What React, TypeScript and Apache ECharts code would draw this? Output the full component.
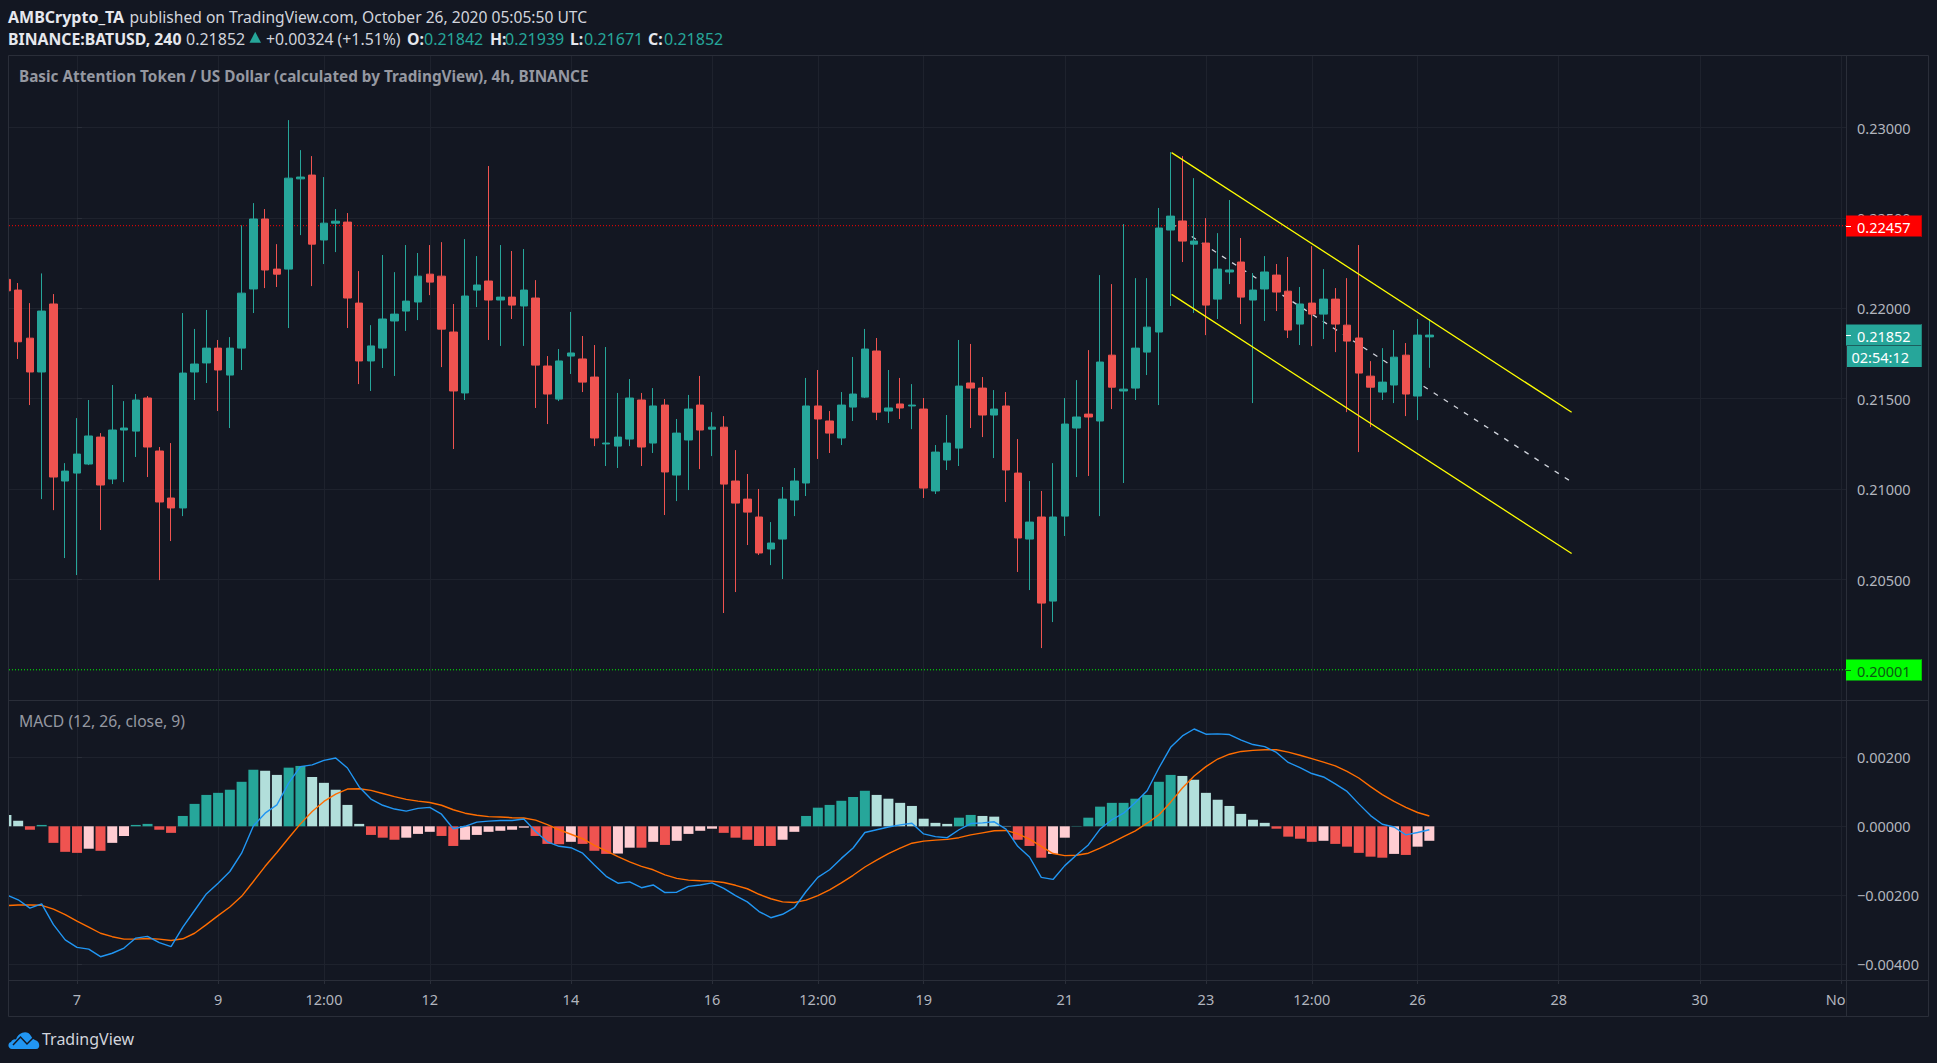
import React, { useEffect, useRef } from "react";
import * as echarts from "echarts";

// Candle index 0 is Oct 7 00:00; one candle is four hours. Prices in 1e-5 USD.
const FIRST_INDEX = -6;
const opens = [
  22160, 22101, 21835, 21648, 22024, 21045,
  21089, 21139, 21288, 21056, 21327, 21321, 21504, 21211, 20951, 20896, 21648, 21698, 21780, 21631,
  21780, 22107, 22494, 22217, 22217, 22716, 22737, 22378, 22471, 22477, 22029, 21709, 21780, 21930, 21985, 22035,
  22189, 22178, 21869, 21532, 22101, 22151, 22046, 22062, 22013, 22057,
  21681, 21498, 21736, 21720, 21620, 21250, 21238, 21277, 21493,
  21255, 21465, 21078, 21272, 21465, 21332, 21343, 21045, 20945, 20846, 20669, 20724, 20940, 21034, 21460, 21377,
  21283, 21454, 21509, 21764, 21432, 21471, 21460, 21443, 20990, 21161, 21227, 21587, 21559, 21410, 21460, 21089,
  20724, 20846, 20381, 20851, 21338, 21415, 21377, 21741, 21543, 21559, 21758, 21869, 22433, 22483, 22355, 22361,
  22051, 22201, 22256, 22046, 22107, 22184, 22095, 21913, 22029, 21968, 22051, 21907, 21836, 21625, 21537, 21576,
  21741, 21515, 21842,
];
const closes = [
  22097, 21815, 21648, 21985, 21067, 21100,
  21194, 21294, 21023, 21327, 21338, 21493, 21233, 20929, 20896, 21642, 21692, 21780, 21659, 21780,
  22084, 22494, 22212, 22189, 22720, 22726, 22355, 22471, 22482, 22057, 21709, 21792, 21941, 21968, 22040, 22178,
  22145, 21885, 21543, 22068, 22129, 22046, 22062, 22018, 22101, 21686,
  21526, 21709, 21753, 21592, 21283, 21255, 21288, 21504, 21233,
  21460, 21095, 21310, 21443, 21327, 21343, 21028, 20923, 20873, 20647, 20702, 20945, 21045, 21460, 21388, 21310,
  21465, 21526, 21775, 21426, 21449, 21449, 21465, 21006, 21205, 21255, 21570, 21559, 21410, 21443, 21106, 20730,
  20818, 20370, 20846, 21360, 21399, 21399, 21703, 21564, 21553, 21780, 21896, 22444, 22510, 22372, 22372, 22018,
  22217, 22212, 22062, 22101, 22201, 22090, 21880, 22024, 21968, 22051, 21913, 21819, 21642, 21564, 21592, 21730,
  21526, 21852, 21852,
];
const lows = [
  22090, 21720, 21465, 20945, 20884, 20619,
  20525, 21133, 20774, 21028, 21039, 21178, 21067, 20497, 20713, 20851, 21493, 21587, 21432, 21338,
  21659, 21974, 22112, 22118, 21891, 22405, 22123, 22245, 22311, 21891, 21581, 21543, 21670, 21626, 21875, 21935,
  22073, 21675, 21222, 21493, 22007, 21825, 21792, 21941, 21792, 21449,
  21360, 21487, 21637, 21537, 21238, 21128, 21117, 21238, 21128,
  21200, 20857, 20934, 20995, 21111, 21183, 20315, 20431, 20691, 20636, 20580, 20503, 20851, 20962, 21167, 21200,
  21244, 21377, 21504, 21382, 21366, 21388, 21332, 20951, 20973, 21106, 21128, 21338, 21288, 21172, 20929, 20542,
  20442, 20121, 20265, 20741, 21067, 21073, 20851, 21443, 21034, 21493, 21631, 21465, 22013, 22256, 21974, 21852,
  21941, 22134, 21913, 21476, 21930, 21985, 21836, 21797, 21791, 21830, 21758, 21426, 21205, 21343, 21493, 21476,
  21404, 21382, 21671,
];
const highs = [
  22180, 22140, 22029, 22193, 22079, 21144,
  21393, 21493, 21310, 21576, 21487, 21526, 21515, 21233, 21255, 21974, 21886, 21991, 21825, 21841,
  22459, 22582, 22549, 22355, 23041, 22875, 22842, 22726, 22549, 22527, 22206, 21907, 22295, 22200, 22350, 22306,
  22350, 22366, 22024, 22383, 22289, 22787, 22350, 22317, 22328, 22156,
  21736, 21775, 21980, 21847, 21797, 21786, 21532, 21609, 21532,
  21559, 21498, 21388, 21521, 21626, 21426, 21404, 21216, 21084, 21001, 20818, 21012, 21117, 21615, 21659, 21432,
  21537, 21731, 21886, 21836, 21659, 21615, 21581, 21504, 21244, 21410, 21825, 21803, 21620, 21548, 21537, 21277,
  21045, 20990, 21144, 21504, 21603, 21769, 22184, 22134, 22466, 22167, 22167, 22555, 22864, 22842, 22720, 22499,
  22416, 22599, 22389, 22195, 22289, 22245, 22284, 22118, 22344, 22217, 22112, 22167, 22350, 21708, 21780, 21880,
  21808, 21941, 21939,
];
// MACD values in 1e-5.
const histogram = [
  33, 16, -10, 4, -48, -74,
  -77, -65, -71, -48, -28, 4, 7, -10, -19, 30, 65, 91, 97, 106,
  129, 164, 161, 149, 170, 175, 143, 126, 106, 62, 7, -25, -33, -39, -33, -22,
  -16, -28, -57, -39, -25, -16, -13, -10, -4, -28,
  -51, -52, -45, -51, -71, -80, -79, -62, -62,
  -45, -54, -42, -22, -13, -7, -19, -33, -39, -57, -57, -39, -16, 30, 54, 62,
  74, 85, 103, 91, 80, 68, 59, 22, 10, 7, 25, 33, 30, 28, 1, -39,
  -57, -91, -80, -33, 1, 25, 57, 68, 68, 80, 91, 129, 149, 146, 135, 97,
  77, 59, 36, 19, 10, -7, -30, -36, -45, -42, -51, -59, -77, -88, -91, -80,
  -83, -59, -42,
];
const macdLine = [
  -199, -213, -237, -225, -285, -329,
  -351, -356, -378, -368, -353, -324, -319, -337, -349, -292, -244, -196, -165, -131,
  -78, 1, 38, 62, 125, 173, 178, 191, 198, 169, 114, 79, 61, 50, 44, 52,
  55, 35, -7, 0, 12, 15, 17, 17, 21, -15,
  -45, -58, -62, -78, -112, -145, -165, -161, -178,
  -170, -192, -191, -174, -170, -164, -180, -201, -219, -247, -265, -255, -236, -189, -148, -126,
  -93, -63, -18, -10, -2, 4, 9, -22, -30, -33, -10, 8, 10, 13, -8, -58,
  -89, -148, -154, -114, -83, -54, -8, 19, 38, 69, 103, 169, 229, 262, 282, 267,
  268, 266, 250, 237, 231, 214, 185, 170, 153, 143, 123, 101, 65, 31, 6, -2,
  -25, -18, -10,
];
const signalLine = [
  -230, -228, -228, -229, -240, -256,
  -275, -292, -310, -320, -327, -327, -325, -327, -331, -326, -310, -285, -259, -234,
  -203, -160, -116, -76, -34, 7, 43, 72, 93, 108, 109, 104, 95, 86, 78, 73,
  69, 61, 48, 38, 32, 28, 27, 25, 24, 18,
  5, -10, -23, -36, -55, -71, -88, -103, -116,
  -126, -141, -151, -156, -158, -159, -163, -171, -181, -197, -210, -219, -221, -214, -201, -184,
  -164, -142, -118, -98, -79, -63, -49, -43, -40, -38, -33, -25, -19, -13, -12, -22,
  -37, -58, -79, -85, -84, -78, -63, -47, -30, -13, 9, 33, 70, 111, 146, 173,
  195, 209, 217, 220, 222, 222, 215, 206, 196, 186, 175, 159, 140, 115, 92, 72,
  55, 40, 30,
];

const timeTicks = [0, 12, 21, 30, 42, 54, 63, 72, 84, 96, 105, 114, 126, 138, 150];
const timeLabelAt = [0, 12, 21, 30, 42, 54, 63, 72, 84, 96, 105, 114, 126, 138, 149.55];
const timeLabels = ["7", "9", "12:00", "12", "14", "16", "12:00", "19", "21", "23", "12:00", "26", "28", "30", "No"];
const priceTicks = [0.205, 0.21, 0.215, 0.22, 0.225, 0.23];
const macdTicks = [-0.004, -0.002, 0, 0.002];

const RESISTANCE = 0.22457;
const SUPPORT = 0.20001;
const LAST_PRICE = 0.21852;
const channelUpper = [[93.08, 0.22861], [127.1, 0.21425]];
const channelLower = [[93.08, 0.22077], [127.1, 0.20644]];
const channelMid = [[93.08, 0.22469], [127.1, 0.2104]];

const BG = "#131722";
const GRID = "#1e222d";
const FRAME = "#2a2e39";
const UP = "#26a69a";
const DOWN = "#ef5350";
const UP_LIGHT = "#b2dfdb";
const DOWN_LIGHT = "#ffcdd2";
const AXIS_TEXT = "#b2b5be";
const FONT = "'Noto Sans', sans-serif";
const AXIS_SIZE = 14.5;

const X_MIN = -5.78;
const X_MAX = 150.43;
const indices = opens.map((_, i) => i + FIRST_INDEX);

echarts.graphic.registerShape(
  "tvCloud",
  echarts.graphic.extendPath(
    "M4 19C0 19-1 13 3 12C4 10 6 9 8 9.5C10 3 19-1 23 6C24 8 25 9 27 10C32 11 33 19 28 19Z",
    {} as any
  ) as any
);

function textEl(x: number, y: number, text: string, fill: string, size: number, weight: string | number = "normal") {
  return {
    type: "text",
    x,
    y,
    z: 100,
    style: { text, fill, font: `${weight} ${size}px ${FONT}`, verticalAlign: "middle" },
  };
}

function frameLine(x1: number, y1: number, x2: number, y2: number) {
  return { type: "line", z: 90, shape: { x1, y1, x2, y2 }, style: { stroke: FRAME, lineWidth: 1 } };
}

function App() {
  const ref = useRef<HTMLDivElement>(null);
  useEffect(() => {
    document.body.style.margin = "0";
    document.body.style.background = BG;
    const chart = echarts.init(ref.current!, undefined, { renderer: "svg" });
    const scaledAxisLabel = { color: AXIS_TEXT, fontFamily: FONT, fontSize: AXIS_SIZE, margin: 11 };
    const baseOption: any = {
      animation: false,
      backgroundColor: BG,
      grid: [
        { left: 9, width: 1837, top: 55, height: 645 },
        { left: 9, width: 1837, top: 700, height: 280 },
      ],
      xAxis: [0, 1].map((g) => ({
        type: "value",
        gridIndex: g,
        min: X_MIN,
        max: X_MAX,
        axisLine: { show: false, onZero: false },
        splitLine: { show: true, lineStyle: { color: GRID, width: 1 } },
        axisTick: {
          show: g === 1,
          customValues: timeTicks,
          length: 4,
          lineStyle: { color: FRAME },
        },
        axisLabel:
          g === 1
            ? {
                show: true,
                customValues: timeLabelAt,
                formatter: (v: number) => timeLabels[timeLabelAt.indexOf(v)],
                color: AXIS_TEXT,
                fontFamily: FONT,
                fontSize: AXIS_SIZE,
                margin: 11,
              }
            : { show: false, customValues: timeLabelAt },
      })),
      yAxis: [
        {
          type: "value",
          gridIndex: 0,
          position: "right",
          min: 0.19834,
          max: 0.23401,
          axisLine: { show: false },
          splitLine: { show: true, lineStyle: { color: GRID, width: 1 } },
          axisTick: { show: true, customValues: priceTicks, length: 5, lineStyle: { color: FRAME } },
          axisLabel: {
            ...scaledAxisLabel,
            customValues: priceTicks,
            formatter: (v: number) => v.toFixed(5),
          },
        },
        {
          type: "value",
          gridIndex: 1,
          position: "right",
          min: -0.004455,
          max: 0.003661,
          axisLine: { show: false },
          splitLine: { show: true, lineStyle: { color: GRID, width: 1 } },
          axisTick: { show: true, customValues: macdTicks, length: 5, lineStyle: { color: FRAME } },
          axisLabel: {
            ...scaledAxisLabel,
            customValues: macdTicks,
            formatter: (v: number) => v.toFixed(5).replace("-", "\u2212"),
          },
        },
      ],
      series: [
        {
          name: "Resistance",
          type: "line",
          xAxisIndex: 0,
          yAxisIndex: 0,
          z: 1,
          symbol: "none",
          silent: true,
          lineStyle: { color: "#ff0000", width: 1, type: [1, 2] },
          data: [[X_MIN, RESISTANCE], [X_MAX, RESISTANCE]],
        },
        {
          name: "Support",
          type: "line",
          xAxisIndex: 0,
          yAxisIndex: 0,
          z: 1,
          symbol: "none",
          silent: true,
          lineStyle: { color: "#00ff00", width: 1, type: [1, 2] },
          data: [[X_MIN, SUPPORT], [X_MAX, SUPPORT]],
        },
        {
          name: "Channel mid",
          type: "line",
          xAxisIndex: 0,
          yAxisIndex: 0,
          z: 1,
          symbol: "none",
          lineStyle: { color: "#d1d4dc", width: 1.3, type: [5, 7] },
          data: channelMid,
        },
        {
          name: "BATUSD",
          type: "candlestick",
          xAxisIndex: 0,
          yAxisIndex: 0,
          z: 2,
          barWidth: 8,
          itemStyle: {
            color: UP,
            color0: DOWN,
            borderColor: UP,
            borderColor0: DOWN,
            borderWidth: 1,
          },
          data: indices.map((x, i) => [x, opens[i] / 1e5, closes[i] / 1e5, lows[i] / 1e5, highs[i] / 1e5]),
        },
        {
          name: "Channel upper",
          type: "line",
          xAxisIndex: 0,
          yAxisIndex: 0,
          z: 3,
          symbol: "none",
          lineStyle: { color: "#ffff00", width: 1.3 },
          data: channelUpper,
        },
        {
          name: "Channel lower",
          type: "line",
          xAxisIndex: 0,
          yAxisIndex: 0,
          z: 3,
          symbol: "none",
          lineStyle: { color: "#ffff00", width: 1.3 },
          data: channelLower,
        },
        {
          name: "Histogram",
          type: "bar",
          xAxisIndex: 1,
          yAxisIndex: 1,
          barWidth: 10,
          z: 2,
          itemStyle: {
            color: (p: any) => {
              const i = p.dataIndex;
              const h = histogram[i];
              const prev = i > 0 ? histogram[i - 1] : h + 1;
              if (h >= 0) return h >= prev ? UP : UP_LIGHT;
              return h <= prev ? DOWN : DOWN_LIGHT;
            },
          },
          data: indices.map((x, i) => [x, histogram[i] / 1e5]),
        },
        {
          name: "Signal",
          type: "line",
          xAxisIndex: 1,
          yAxisIndex: 1,
          z: 3,
          symbol: "none",
          lineStyle: { color: "#ff6d00", width: 1.4 },
          data: indices.map((x, i) => [x, signalLine[i] / 1e5]),
        },
        {
          name: "MACD",
          type: "line",
          xAxisIndex: 1,
          yAxisIndex: 1,
          z: 4,
          symbol: "none",
          lineStyle: { color: "#2196f3", width: 1.4 },
          data: indices.map((x, i) => [x, macdLine[i] / 1e5]),
        },
      ],
    };
    chart.setOption(baseOption);

    const tag = (price: number, label: string, fill: string, edge: string, color: string) => {
      const y = Math.round(chart.convertToPixel({ yAxisIndex: 0 }, price) as number);
      return [
        { type: "rect", z: 95, shape: { x: 1846, y: y - 10.5, width: 76, height: 21 }, style: { fill } },
        { type: "rect", z: 96, shape: { x: 1921, y: y - 10.5, width: 1, height: 21 }, style: { fill: edge } },
        { type: "line", z: 96, shape: { x1: 1846, y1: y + 0.5, x2: 1851, y2: y + 0.5 }, style: { stroke: color, lineWidth: 1 } },
        textEl(1857, y + 0.5, label, color, AXIS_SIZE),
      ];
    };
    const lastY = Math.round(chart.convertToPixel({ yAxisIndex: 0 }, LAST_PRICE) as number);

    chart.setOption({
      graphic: [
        { type: "rect", z: 89, shape: { x: 0, y: 56, width: 8.5, height: 924 }, style: { fill: BG } },
        frameLine(8.5, 55.5, 1928.5, 55.5),
        frameLine(8.5, 700.5, 1928.5, 700.5),
        frameLine(8.5, 980.5, 1928.5, 980.5),
        frameLine(8.5, 1016.5, 1928.5, 1016.5),
        frameLine(8.5, 55.5, 8.5, 1016.5),
        frameLine(1846.5, 55.5, 1846.5, 1016.5),
        frameLine(1928.5, 55.5, 1928.5, 1016.5),
        textEl(8, 17, "AMBCrypto_TA", "#e6e8ee", 16, "bold"),
        textEl(129.5, 17, "published on TradingView.com, October 26, 2020 05:05:50 UTC", "#d1d4dc", 15.6),
        textEl(8, 39, "BINANCE:BATUSD, 240", "#e6e8ee", 15.8, "bold"),
        textEl(186, 39, "0.21852", "#d1d4dc", 16),
        {
          type: "polygon",
          z: 100,
          shape: { points: [[249.5, 42.7], [255.2, 31.7], [261, 42.7]] },
          style: { fill: UP },
        },
        textEl(266, 39, "+0.00324 (+1.51%)", "#d1d4dc", 15.8),
        textEl(407, 39, "O:", "#e6e8ee", 15.8, "bold"),
        textEl(424, 39, "0.21842", UP, 16),
        textEl(490, 39, "H:", "#e6e8ee", 15.8, "bold"),
        textEl(505, 39, "0.21939", UP, 16),
        textEl(570, 39, "L:", "#e6e8ee", 15.8, "bold"),
        textEl(584, 39, "0.21671", UP, 16),
        textEl(648, 39, "C:", "#e6e8ee", 15.8, "bold"),
        textEl(664, 39, "0.21852", UP, 16),
        textEl(19, 76, "Basic Attention Token / US Dollar (calculated by TradingView), 4h, BINANCE", "#9598a1", 15.3, "bold"),
        textEl(19, 721, "MACD (12, 26, close, 9)", "#9598a1", 15.7),
        ...tag(RESISTANCE, "0.22457", "#ff0000", "#c80000", "#ffffff"),
        ...tag(LAST_PRICE, "0.21852", UP, "#1e857b", "#ffffff"),
        { type: "rect", z: 95, shape: { x: 1847, y: lastY + 11, width: 75, height: 21 }, style: { fill: UP } },
        { type: "rect", z: 96, shape: { x: 1921, y: lastY + 11, width: 1, height: 21 }, style: { fill: "#1e857b" } },
        textEl(1851.5, lastY + 22, "02:54:12", "#ffffff", AXIS_SIZE),
        ...tag(SUPPORT, "0.20001", "#00ff00", "#00c800", "#0b5a12"),
        { type: "tvCloud", z: 100, x: 8, y: 1030, style: { fill: "#2196f3" } },
        {
          type: "polyline",
          z: 101,
          shape: { points: [[13, 1045], [20.5, 1037], [27, 1044], [33, 1038]] },
          style: { stroke: BG, lineWidth: 1.5, fill: "none" },
        },
        textEl(42, 1039, "TradingView", "#d1d4dc", 16),
      ],
    });
    return () => chart.dispose();
  }, []);
  return <div ref={ref} style={{ position: "absolute", left: 0, top: 0, width: 1937, height: 1063 }} />;
}

export default App;
